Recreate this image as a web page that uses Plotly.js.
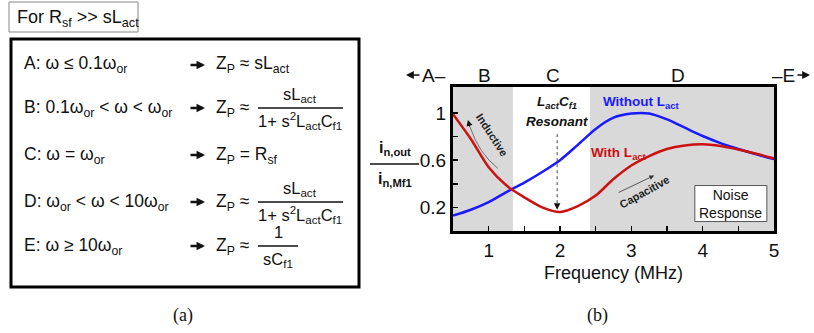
<!DOCTYPE html>
<html>
<head>
<meta charset="utf-8">
<script src="https://cdn.plot.ly/plotly-3.0.1.min.js"></script>
<style>html,body{margin:0;padding:0;background:#fff;}#chart{width:814px;height:333px;}</style>
</head>
<body>
<div id="chart"></div>
<script>
// ---------- data ----------
const freq = [0.5, 0.75, 1.0, 1.25, 1.5, 1.75, 2.0, 2.25, 2.5, 2.75, 3.0, 3.25, 3.5, 3.75, 4.0, 4.25, 4.5, 4.75, 5.0];
const withLact = [0.99, 0.78, 0.54, 0.385, 0.285, 0.20, 0.16, 0.21, 0.30, 0.44, 0.555, 0.635, 0.695, 0.725, 0.735, 0.72, 0.69, 0.655, 0.615];
const withoutLact = [0.13, 0.18, 0.245, 0.33, 0.41, 0.50, 0.60, 0.73, 0.865, 0.96, 0.995, 0.995, 0.945, 0.875, 0.805, 0.745, 0.695, 0.65, 0.61];
const regionEdges = [0.5, 1.34, 2.42, 5.0];   // gray | white | gray
const xTickVals = [1, 1.5, 2, 2.5, 3, 3.5, 4, 4.5, 5];
const xTickText = ['1', ' ', '2', ' ', '3', ' ', '4', ' ', '5'];
const yTickVals = [0.2, 0.4, 0.6, 0.8, 1.0];
const yTickText = ['0.2', ' ', '0.6', ' ', '1'];
const regionLabels = ['A\u2013', 'B', 'C', 'D', '\u2013E'];
const caseLabels = [
  'A: \u03c9 \u2264 0.1\u03c9<sub>or</sub>',
  'B: 0.1\u03c9<sub>or</sub> &lt; \u03c9 &lt; \u03c9<sub>or</sub>',
  'C: \u03c9 = \u03c9<sub>or</sub>',
  'D: \u03c9<sub>or</sub> &lt; \u03c9 &lt; 10\u03c9<sub>or</sub>',
  'E: \u03c9 \u2265 10\u03c9<sub>or</sub>'
];

// ---------- helpers (pixel -> paper) ----------
const W = 814, H = 333;
const X = p => p / W;
const Y = p => 1 - p / H;
const SANS = 'Liberation Sans, Arial, sans-serif';
const SERIF = 'Liberation Serif, Times New Roman, serif';

const shapes = [];
const ann = [];

function txt(x, y, text, size, opts) {
  ann.push(Object.assign({
    xref: 'paper', yref: 'paper', x: X(x), y: Y(y), text: text, showarrow: false,
    xanchor: 'left', yanchor: 'middle', font: {family: SANS, size: size, color: '#111'}
  }, opts || {}));
}
function hline(x0, x1, y, w, c) {
  shapes.push({type: 'line', xref: 'paper', yref: 'paper', x0: X(x0), x1: X(x1), y0: Y(y), y1: Y(y),
    line: {color: c || '#111', width: w || 1.5}});
}
function parrow(xTip, y, dx, width, size) {
  ann.push({xref: 'paper', yref: 'paper', x: X(xTip), y: Y(y), ax: dx, ay: 0, text: '',
    showarrow: true, arrowhead: 2, arrowsize: size, arrowwidth: width, arrowcolor: '#111'});
}

// ---------- panel (a) ----------
shapes.push({type: 'rect', xref: 'paper', yref: 'paper', x0: X(9), x1: X(138), y0: Y(2), y1: Y(32),
  line: {color: '#888', width: 1}, fillcolor: 'rgba(0,0,0,0)'});
txt(15, 18, 'For R<sub>sf</sub> &gt;&gt; sL<sub>act</sub>', 18);
shapes.push({type: 'rect', xref: 'paper', yref: 'paper', x0: X(11), x1: X(359), y0: Y(39), y1: Y(287),
  line: {color: '#000', width: 3}, fillcolor: 'rgba(0,0,0,0)'});

const rowY = [65, 108, 155, 202, 246];
caseLabels.forEach((t, i) => txt(22, rowY[i], t, 17.5));
rowY.forEach(y => parrow(205, y, -16, 2.6, 0.65));
txt(214, rowY[0], 'Z<sub>P</sub> \u2248 sL<sub>act</sub>', 17.5);
txt(214, rowY[1], 'Z<sub>P</sub> \u2248', 17.5);
txt(214, rowY[2], 'Z<sub>P</sub> = R<sub>sf</sub>', 17.5);
txt(214, rowY[3], 'Z<sub>P</sub> \u2248', 17.5);
txt(214, rowY[4], 'Z<sub>P</sub> \u2248', 17.5);
// fractions
[rowY[1], rowY[3]].forEach(y => {
  txt(300, y - 13, 'sL<sub>act</sub>', 16.5, {xanchor: 'center'});
  hline(258, 343, y, 1.5);
  txt(300, y + 13, '1+ s<sup>2</sup>L<sub>act</sub>C<sub>f1</sub>', 16.5, {xanchor: 'center'});
});
txt(278, rowY[4] - 14, '1', 16.5, {xanchor: 'center'});
hline(258, 298, rowY[4], 1.5);
txt(278, rowY[4] + 14, 'sC<sub>f1</sub>', 16.5, {xanchor: 'center'});
txt(183, 315, '(a)', 18, {xanchor: 'center', font: {family: SERIF, size: 18, color: '#111'}});
txt(597, 315, '(b)', 18, {xanchor: 'center', font: {family: SERIF, size: 18, color: '#111'}});

// ---------- panel (b) decorations ----------
shapes.push({type: 'rect', xref: 'x', yref: 'y domain', x0: regionEdges[0], x1: regionEdges[1], y0: 0, y1: 1,
  fillcolor: '#d9d9d9', line: {width: 0}, layer: 'below'});
shapes.push({type: 'rect', xref: 'x', yref: 'y domain', x0: regionEdges[2], x1: regionEdges[3], y0: 0, y1: 1,
  fillcolor: '#d9d9d9', line: {width: 0}, layer: 'below'});
// region labels above plot
const regionLabelX = [434, 485, 553, 678, 783];
regionLabels.forEach((t, i) => txt(regionLabelX[i], 75, t, 19,
  {xanchor: 'center', font: {family: SANS, size: 19, color: '#111'}}));
// small arrows for A (leftward) and E (rightward)
ann.push({xref: 'paper', yref: 'paper', x: X(406), y: Y(75), ax: 15, ay: 0, text: '',
  showarrow: true, arrowhead: 2, arrowsize: 1.2, arrowwidth: 1.3, arrowcolor: '#111'});
ann.push({xref: 'paper', yref: 'paper', x: X(810), y: Y(75), ax: -14, ay: 0, text: '',
  showarrow: true, arrowhead: 2, arrowsize: 1.2, arrowwidth: 1.3, arrowcolor: '#111'});

// y-axis title as a fraction
txt(395, 148, '<b>i<sub>n,out</sub></b>', 16, {xanchor: 'center'});
hline(370, 419, 164, 1.5);
txt(395, 179, '<b>i<sub>n,Mf1</sub></b>', 16, {xanchor: 'center'});

// in-plot annotations (data coordinates)
function dtxt(x, y, text, font, extra) {
  ann.push(Object.assign({xref: 'x', yref: 'y', x: x, y: y, text: text, showarrow: false, font: font}, extra || {}));
}
dtxt(1.96, 1.09, '<b><i>L<sub>act</sub>C<sub>f1</sub></i></b>', {family: SANS, size: 13.5, color: '#111'});
dtxt(1.96, 0.93, '<b><i>Resonant</i></b>', {family: SANS, size: 13.5, color: '#111'});
dtxt(3.14, 1.085, '<b>Without L<sub>act</sub></b>', {family: SANS, size: 13.5, color: '#1a1aff'});
dtxt(2.83, 0.655, '<b>With L<sub>act</sub></b>', {family: SANS, size: 13.5, color: '#cc1111'});
dtxt(1.05, 0.815, '<b>Inductive</b>', {family: SANS, size: 11, color: '#222'}, {textangle: 57});
dtxt(3.18, 0.33, '<b>Capacitive</b>', {family: SANS, size: 11, color: '#222'}, {textangle: -29});

// dotted resonance marker
shapes.push({type: 'line', xref: 'x', yref: 'y', x0: 1.96, x1: 1.96, y0: 0.82, y1: 0.22,
  line: {color: '#444', width: 1, dash: 'dot'}});
ann.push({xref: 'x', yref: 'y', axref: 'x', ayref: 'y', x: 1.96, y: 0.18, ax: 1.96, ay: 0.24,
  showarrow: true, arrowhead: 2, arrowsize: 1.3, arrowwidth: 1, arrowcolor: '#111', text: ''});
// inductive curved arrow
shapes.push({type: 'path', xref: 'x', yref: 'y', path: 'M 1.13,0.53 Q 0.86,0.66 0.74,0.88',
  line: {color: '#555', width: 0.8}});
ann.push({xref: 'x', yref: 'y', axref: 'x', ayref: 'y', x: 0.71, y: 0.94, ax: 0.74, ay: 0.87,
  showarrow: true, arrowhead: 2, arrowsize: 1.2, arrowwidth: 1, arrowcolor: '#111', text: ''});
// capacitive arrow
ann.push({xref: 'x', yref: 'y', axref: 'x', ayref: 'y', x: 3.32, y: 0.47, ax: 2.80, ay: 0.32,
  showarrow: true, arrowhead: 2, arrowsize: 1.2, arrowwidth: 0.8, arrowcolor: '#333', text: ''});
// Noise response box
shapes.push({type: 'rect', xref: 'x', yref: 'y', x0: 3.89, x1: 4.90, y0: 0.08, y1: 0.385,
  fillcolor: '#fff', line: {color: '#555', width: 1}});
dtxt(4.395, 0.232, 'Noise<br>Response', {family: SANS, size: 14, color: '#111'});

// ---------- traces ----------
const traces = [
  {x: freq, y: withoutLact, type: 'scatter', mode: 'lines', name: 'Without Lact',
    line: {color: '#1a1aff', width: 2.5, shape: 'spline', smoothing: 0.8}},
  {x: freq, y: withLact, type: 'scatter', mode: 'lines', name: 'With Lact',
    line: {color: '#cc1111', width: 2.5, shape: 'spline', smoothing: 0.8}}
];

const layout = {
  width: W, height: H,
  margin: {l: 0, r: 0, t: 0, b: 0},
  paper_bgcolor: '#fff', plot_bgcolor: '#fff',
  showlegend: false,
  xaxis: {
    domain: [X(453), X(774)], range: [0.5, 5], showgrid: false, zeroline: false,
    showline: true, mirror: true, linewidth: 3, linecolor: '#000',
    ticks: 'inside', ticklen: 5, tickwidth: 1.5, tickcolor: '#000',
    tickvals: xTickVals, ticktext: xTickText,
    tickfont: {family: SANS, size: 19, color: '#111'},
    title: {text: 'Frequency (MHz)', font: {family: SANS, size: 18, color: '#111'}, standoff: 7}
  },
  yaxis: {
    domain: [Y(231), Y(87)], range: [0, 1.22], showgrid: false, zeroline: false,
    showline: true, mirror: true, linewidth: 3, linecolor: '#000',
    ticks: 'inside', ticklen: 5, tickwidth: 1.5, tickcolor: '#000',
    tickvals: yTickVals, ticktext: yTickText,
    tickfont: {family: SANS, size: 19, color: '#111'}
  },
  shapes: shapes,
  annotations: ann
};

Plotly.newPlot('chart', traces, layout, {staticPlot: true, displayModeBar: false});
</script>
</body>
</html>
